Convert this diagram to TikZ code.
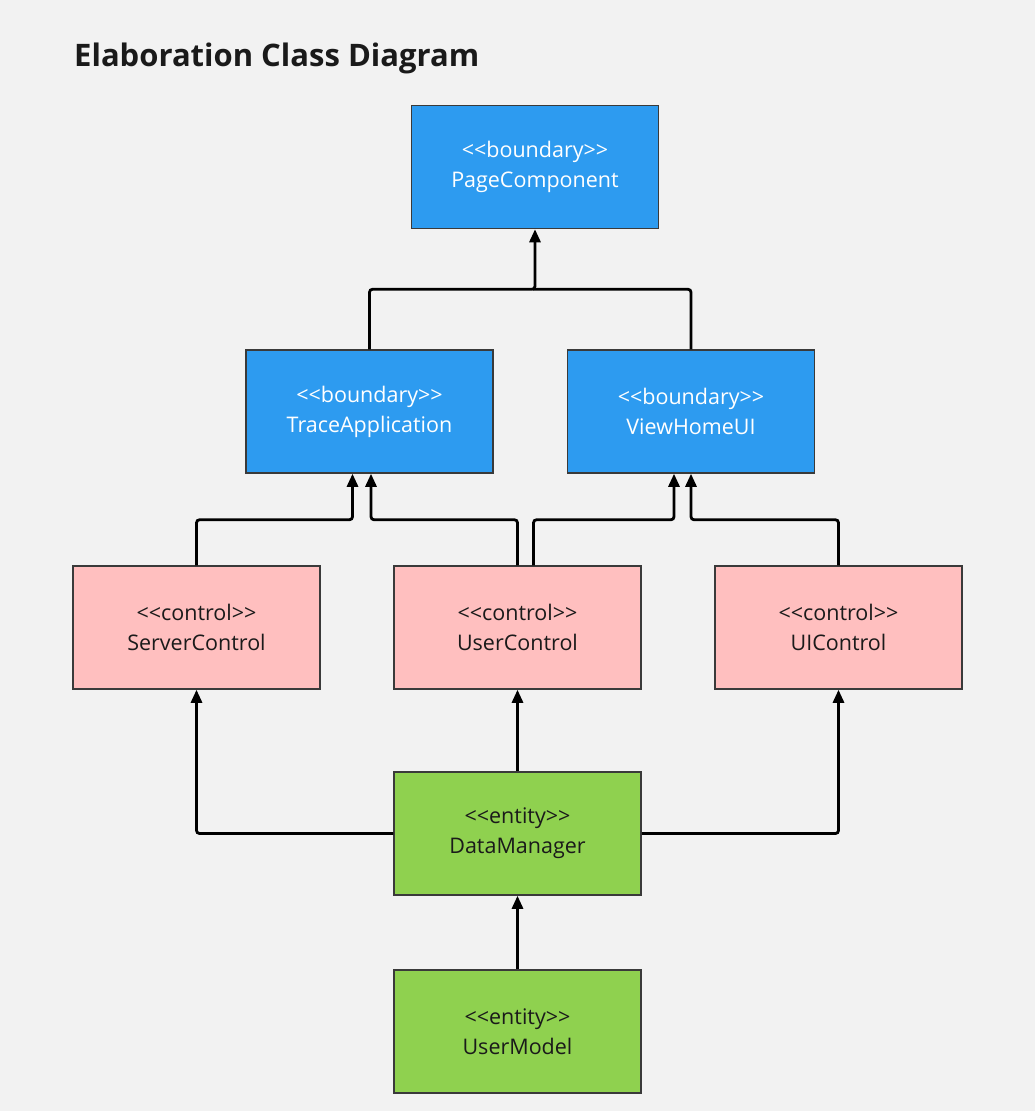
\documentclass[tikz,border=0pt]{standalone}
\usepackage{fontspec}
\setmainfont{Open Sans}
\usetikzlibrary{arrows.meta}
\definecolor{bg}{HTML}{F2F2F2}
\definecolor{bblue}{HTML}{2D9BF0}
\definecolor{bpink}{HTML}{FFBFBF}
\definecolor{bgreen}{HTML}{8FD14F}
\definecolor{bord}{HTML}{3A3A3A}
\definecolor{txt}{HTML}{1A1A1A}
\tikzset{
  cls/.style={draw=bord, line width=1.5pt, minimum width=247pt, minimum height=123pt,
    inner sep=0pt, align=center, font=\fontsize{21.5}{30}\selectfont},
  boundarybox/.style={cls, fill=bblue, text=white},
  controlbox/.style={cls, fill=bpink, text=txt},
  entitybox/.style={cls, fill=bgreen, text=txt},
  link/.style={draw=black, line width=2.8pt, rounded corners=3pt},
  arr/.style={link, -{Triangle[width=11pt,length=13pt]}},
}
\newcommand{\stereo}[1]{<{}<#1>{}>}
\begin{document}
\begin{tikzpicture}[x=1pt,y=-1pt]
\useasboundingbox[fill=bg] (0,0) rectangle (1035,1111);
\node[anchor=base west, font=\fontsize{31}{36}\selectfont\bfseries, text=txt, inner sep=0pt] (title) at (74,66) {Elaboration Class Diagram};

\node[boundarybox] (pc) at (535,167) {\stereo{boundary}\\PageComponent};
\node[boundarybox] (ta) at (369.5,411.5) {\stereo{boundary}\\TraceApplication};
\node[boundarybox] (vh) at (691,411.5) {\stereo{boundary}\\ViewHomeUI};
\node[controlbox] (sc) at (196.5,627.5) {\stereo{control}\\ServerControl};
\node[controlbox] (uc) at (517.5,627.5) {\stereo{control}\\UserControl};
\node[controlbox] (ui) at (838.5,627.5) {\stereo{control}\\UIControl};
\node[entitybox] (dm) at (517.5,833.5) {\stereo{entity}\\DataManager};
\node[entitybox] (um) at (517.5,1031.5) {\stereo{entity}\\UserModel};

\coordinate (j1) at ([yshift=-60pt]pc.south);
\draw[arr] (ta.north) |- (j1) -- (pc.south);
\draw[link] (vh.north) |- ([xshift=-2pt]j1);

\draw[arr] (sc.north) |- ([xshift=-17pt,yshift=-46pt]ta.south) -- ([xshift=-17pt]ta.south);
\draw[arr] (uc.north) |- ([xshift=1.5pt,yshift=-46pt]ta.south) -- ([xshift=1.5pt]ta.south);
\draw[arr] ([xshift=16pt]uc.north) |- ([xshift=-17pt,yshift=-46pt]vh.south) -- ([xshift=-17pt]vh.south);
\draw[arr] (ui.north) |- ([yshift=-46pt]vh.south) -- (vh.south);

\draw[arr] (dm.west) -| (sc.south);
\draw[arr] (dm.north) -- (uc.south);
\draw[arr] (dm.east) -| (ui.south);
\draw[arr] (um.north) -- (dm.south);
\end{tikzpicture}
\end{document}
